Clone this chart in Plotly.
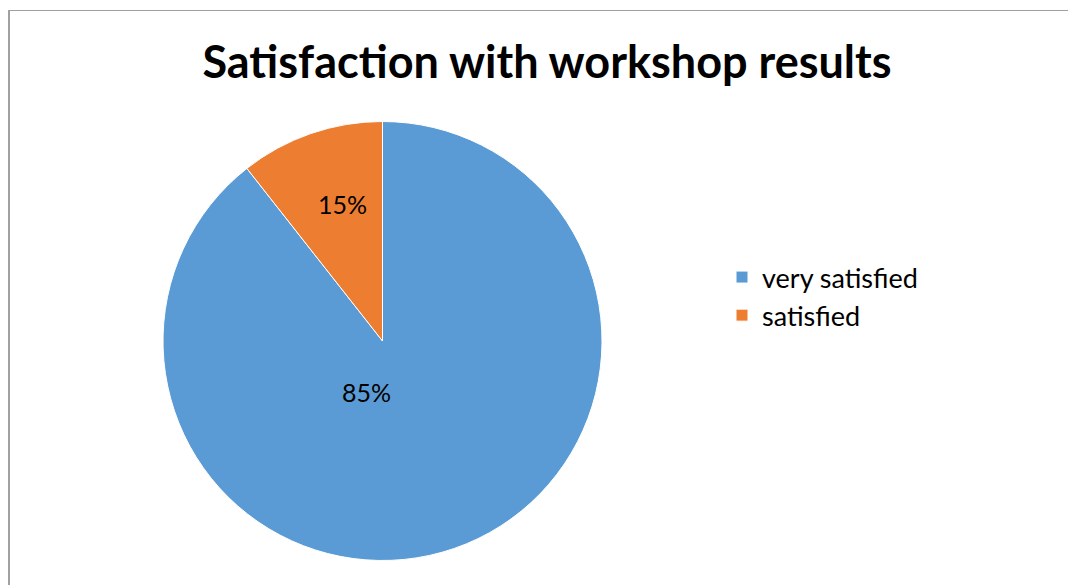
import plotly.graph_objects as go

# slice data
labels = ["very satisfied", "satisfied"]
shares = [89.4, 10.6]
pct_text = ["85%", "15%"]
colors = ["#5B9BD5", "#ED7D31"]

W, H = 1076, 585
OFF = 8  # page body margin shifts the figure by 8px


def px_x(x):
    return (x - OFF) / W


def px_y(y):
    return 1 - (y - OFF) / H


cx, cy, r = 382.5, 341, 219.5

fig = go.Figure(go.Pie(
    labels=labels,
    values=shares,
    textinfo="none",
    sort=False,
    direction="clockwise",
    rotation=0,
    marker=dict(colors=colors, line=dict(color="white", width=1)),
    domain=dict(x=[px_x(cx - r), px_x(cx + r)], y=[px_y(cy + r), px_y(cy - r)]),
    hoverinfo="label+percent",
))

# data labels, placed like the original
label_pos = [(366, 392), (342, 204)]
annotations = []
for txt, (lx, ly) in zip(pct_text, label_pos):
    annotations.append(dict(
        text=txt, x=px_x(lx), y=px_y(ly), xref="paper", yref="paper",
        showarrow=False, xanchor="center", yanchor="middle",
        font=dict(family="Lato", size=25, color="black"),
    ))

fig.update_layout(
    width=W,
    height=H,
    margin=dict(l=0, r=0, t=0, b=0),
    paper_bgcolor="white",
    title=dict(
        text="<b>Satisfaction with workshop results</b>",
        x=px_x(547), xanchor="center",
        y=px_y(62), yanchor="middle",
        font=dict(family="Lato", size=45, color="black"),
    ),
    legend=dict(
        x=px_x(722), xanchor="left",
        y=px_y(253), yanchor="top",
        font=dict(family="Lato", size=27, color="black"),
        tracegroupgap=0,
    ),
    annotations=annotations,
    shapes=[
        dict(type="line", xref="paper", yref="paper",
             x0=px_x(8), x1=1, y0=px_y(10.5), y1=px_y(10.5),
             line=dict(color="#A0A0A0", width=1)),
        dict(type="line", xref="paper", yref="paper",
             x0=px_x(9), x1=px_x(9), y0=0, y1=px_y(10.5),
             line=dict(color="#A0A0A0", width=2)),
    ],
)

fig.write_html("out.html")
